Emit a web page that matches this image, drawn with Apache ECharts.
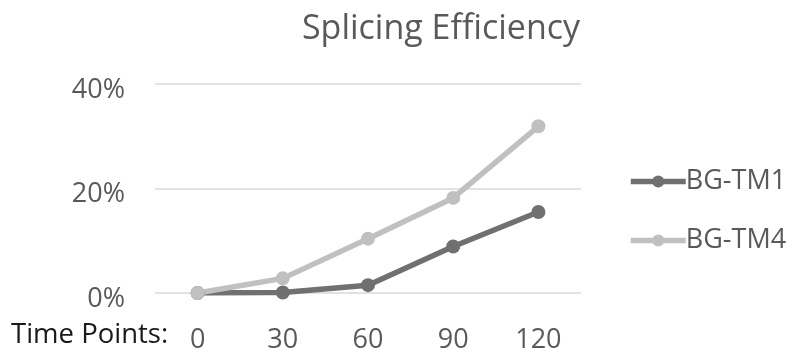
<!DOCTYPE html>
<html>
<head>
<meta charset="utf-8">
<script src="https://cdn.jsdelivr.net/npm/echarts@6/dist/echarts.min.js"></script>
<style>
  html, body { margin: 0; padding: 0; background: #fff; }
  #chart { width: 797px; height: 356px; }
</style>
</head>
<body>
<div id="chart"></div>
<script>
// Time points (minutes) and splicing efficiency (%) per construct
const timePoints = ['0', '30', '60', '90', '120'];
const bgTm1 = [0, 0.1, 1.5, 8.9, 15.5];
const bgTm4 = [0, 2.8, 10.4, 18.2, 31.9];
const yTicks = { min: 0, max: 40, interval: 20 };

const FONT = '"Open Sans", sans-serif';
const TEXT = '#595959';

const chart = echarts.init(document.getElementById('chart'), null, { renderer: 'canvas' });

function lineSeries(name, data, color) {
  return {
    name: name,
    type: 'line',
    data: data,
    symbol: 'circle',
    symbolSize: 14,
    lineStyle: { color: color, width: 5.5 },
    itemStyle: { color: color },
    emphasis: { disabled: true },
    animation: false
  };
}

chart.setOption({
  backgroundColor: '#ffffff',
  textStyle: { fontFamily: FONT },
  title: {
    text: 'Splicing Efficiency',
    left: 436,
    textAlign: 'center',
    top: 7,
    textStyle: { fontFamily: FONT, fontSize: 34, fontWeight: 'normal', color: TEXT }
  },
  legend: {
    orient: 'vertical',
    left: 623,
    top: 163,
    itemWidth: 55,
    itemHeight: 15,
    itemGap: 32,
    lineStyle: { width: 5.5 },
    textStyle: { fontFamily: FONT, fontSize: 27, color: TEXT, padding: [0, 0, 0, -5] },
    data: ['BG-TM1', 'BG-TM4']
  },
  grid: { left: 155, right: 216, top: 84, bottom: 63 },
  xAxis: {
    type: 'category',
    data: timePoints,
    boundaryGap: true,
    axisLine: { show: false },
    axisTick: { show: false },
    axisLabel: { color: TEXT, fontFamily: FONT, fontSize: 27, margin: 34 }
  },
  yAxis: {
    type: 'value',
    min: yTicks.min,
    max: yTicks.max,
    interval: yTicks.interval,
    axisLine: { show: false },
    axisTick: { show: false },
    splitLine: { lineStyle: { color: '#d9d9d9', width: 1.5 } },
    axisLabel: {
      margin: 30,
      formatter: '{v|{value}%}',
      rich: { v: { color: TEXT, fontFamily: FONT, fontSize: 27, padding: [12, 0, 0, 0] } }
    }
  },
  graphic: [{
    type: 'text',
    left: 11,
    top: 321,
    style: { text: 'Time Points:', fontFamily: FONT, fontSize: 27.5, fill: '#1a1a1a' }
  }],
  series: [
    lineSeries('BG-TM1', bgTm1, '#707070'),
    lineSeries('BG-TM4', bgTm4, '#c0c0c0')
  ]
});
</script>
</body>
</html>
